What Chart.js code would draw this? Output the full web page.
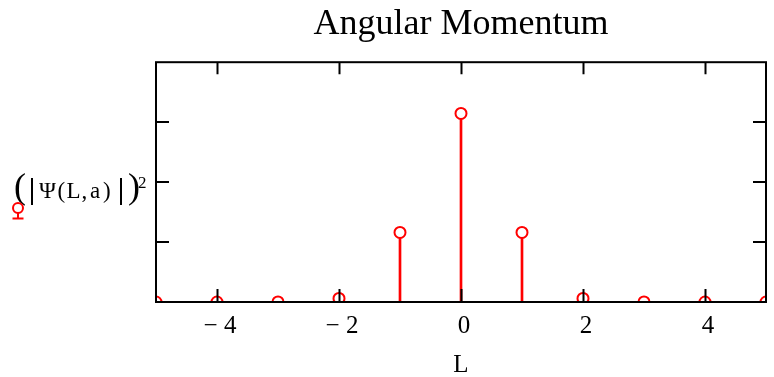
<!DOCTYPE html>
<html>
<head>
<meta charset="utf-8">
<script src="https://cdn.jsdelivr.net/npm/chart.js@4"></script>
<style>
  body { margin: 0; background: #fff; }
  canvas { display: block; }
</style>
</head>
<body>
<canvas id="myChart" width="774" height="377"></canvas>
<script>
"use strict";

//////////////////////////////
// Data
const lValues = [-5, -4, -3, -2, -1, 0, 1, 2, 3, 4, 5];
const probValues = [0, 0, 0.0002, 0.006, 0.116, 0.3145, 0.116, 0.006, 0.0002, 0, 0];
const xTickValues = [-4, -2, 0, 2, 4];

const chartTitle = "Angular Momentum";
const xTitle = "L";

//////////////////////////////
// Styles
const red = "#ff0000";
const serif = '"Liberation Serif", "Times New Roman", serif';

const points = lValues.map((l, i) => ({ x: l, y: probValues[i] }));

// frame + inward ticks on all four sides (Mathcad look)
const framePlugin = {
  id: "frame",
  afterDatasetsDraw(chart) {
    const { ctx, chartArea: a, scales } = chart;
    ctx.save();
    ctx.strokeStyle = "#000";
    ctx.lineWidth = 2;
    ctx.beginPath();
    scales.x.ticks.forEach((t) => {
      const px = Math.round(scales.x.getPixelForValue(t.value)) + 0.5;
      ctx.moveTo(px, a.bottom);
      ctx.lineTo(px, a.bottom - 13);
      ctx.moveTo(px, a.top);
      ctx.lineTo(px, a.top + 12);
    });
    scales.y.ticks.forEach((t) => {
      if (t.value <= scales.y.min || t.value >= scales.y.max) return;
      const py = Math.round(scales.y.getPixelForValue(t.value));
      ctx.moveTo(a.left, py);
      ctx.lineTo(a.left + 13, py);
      ctx.moveTo(a.right, py);
      ctx.lineTo(a.right - 13, py);
    });
    ctx.stroke();
    ctx.strokeRect(a.left, a.top, a.right - a.left, a.bottom - a.top);
    ctx.restore();
  },
};

// horizontal y label "(|Ψ(L,a)|)²" with the trace marker under it
// (Mathcad spaces the glyphs out, so each one is placed on its own)
const yLabelGlyphs = [
  ["Ψ", 39],
  ["(", 57.5],
  ["L", 66.5],
  [",", 81.5],
  ["a", 90],
  [")", 103],
];

const yLabelPlugin = {
  id: "yLabel",
  afterDraw(chart) {
    const ctx = chart.ctx;
    ctx.save();
    ctx.fillStyle = "#000";
    ctx.textBaseline = "alphabetic";
    ctx.font = "36px " + serif;
    ctx.fillText("(", 14, 198);
    ctx.fillText(")", 128, 198);
    ctx.fillRect(31, 178, 2, 27);
    ctx.fillRect(120, 178, 2, 27);
    ctx.font = "23px " + serif;
    yLabelGlyphs.forEach(([g, x]) => ctx.fillText(g, x, 198));
    ctx.font = "17px " + serif;
    ctx.fillText("2", 138, 188);

    ctx.strokeStyle = red;
    ctx.lineWidth = 2;
    ctx.beginPath();
    ctx.arc(18, 208, 5, 0, Math.PI * 2);
    ctx.stroke();
    ctx.beginPath();
    ctx.moveTo(18, 213);
    ctx.lineTo(18, 218);
    ctx.moveTo(12.5, 218.5);
    ctx.lineTo(23.5, 218.5);
    ctx.stroke();
    ctx.restore();
  },
};

const ctx = document.getElementById("myChart").getContext("2d");
const chart = new Chart(ctx, {
  type: "bar",
  data: {
    datasets: [
      {
        type: "scatter",
        data: points,
        pointRadius: 5.5,
        pointHoverRadius: 5.5,
        pointBorderWidth: 2,
        pointBorderColor: red,
        pointBackgroundColor: "#fff",
        clip: 0,
        order: 0,
      },
      {
        type: "bar",
        data: points,
        backgroundColor: red,
        borderWidth: 0,
        barThickness: 2,
        clip: 0,
        order: 1,
      },
    ],
  },
  options: {
    responsive: false,
    animation: false,
    events: [],
    layout: { padding: { top: 0, right: 8, bottom: 0, left: 0 } },
    plugins: {
      legend: { display: false },
      tooltip: { enabled: false },
      title: {
        display: true,
        text: chartTitle,
        fullSize: false,
        color: "#000",
        font: { family: serif, size: 36, weight: "normal", lineHeight: 1.2 },
        padding: { top: 3, bottom: 16 },
      },
    },
    scales: {
      x: {
        type: "linear",
        offset: false,
        min: -5,
        max: 5,
        afterBuildTicks: (scale) => {
          scale.ticks = xTickValues.map((v) => ({ value: v }));
        },
        afterFit: (scale) => {
          scale.height = 75;
        },
        grid: { display: false, drawTicks: false, offset: false },
        border: { display: false },
        ticks: {
          color: "#000",
          padding: 9,
          labelOffset: 3,
          maxRotation: 0,
          font: { family: serif, size: 25, lineHeight: 1.2 },
          callback: (v) => (v < 0 ? "\u2212 " + Math.abs(v) : String(v)),
        },
        title: {
          display: true,
          text: xTitle,
          color: "#000",
          font: { family: serif, size: 25, lineHeight: 0.9 },
          padding: 0,
        },
      },
      y: {
        min: 0,
        max: 0.4,
        afterFit: (scale) => {
          scale.width = 156;
        },
        grid: { display: false, drawTicks: false },
        border: { display: false },
        ticks: { display: false, stepSize: 0.1 },
      },
    },
  },
  plugins: [framePlugin, yLabelPlugin],
});
</script>
</body>
</html>
